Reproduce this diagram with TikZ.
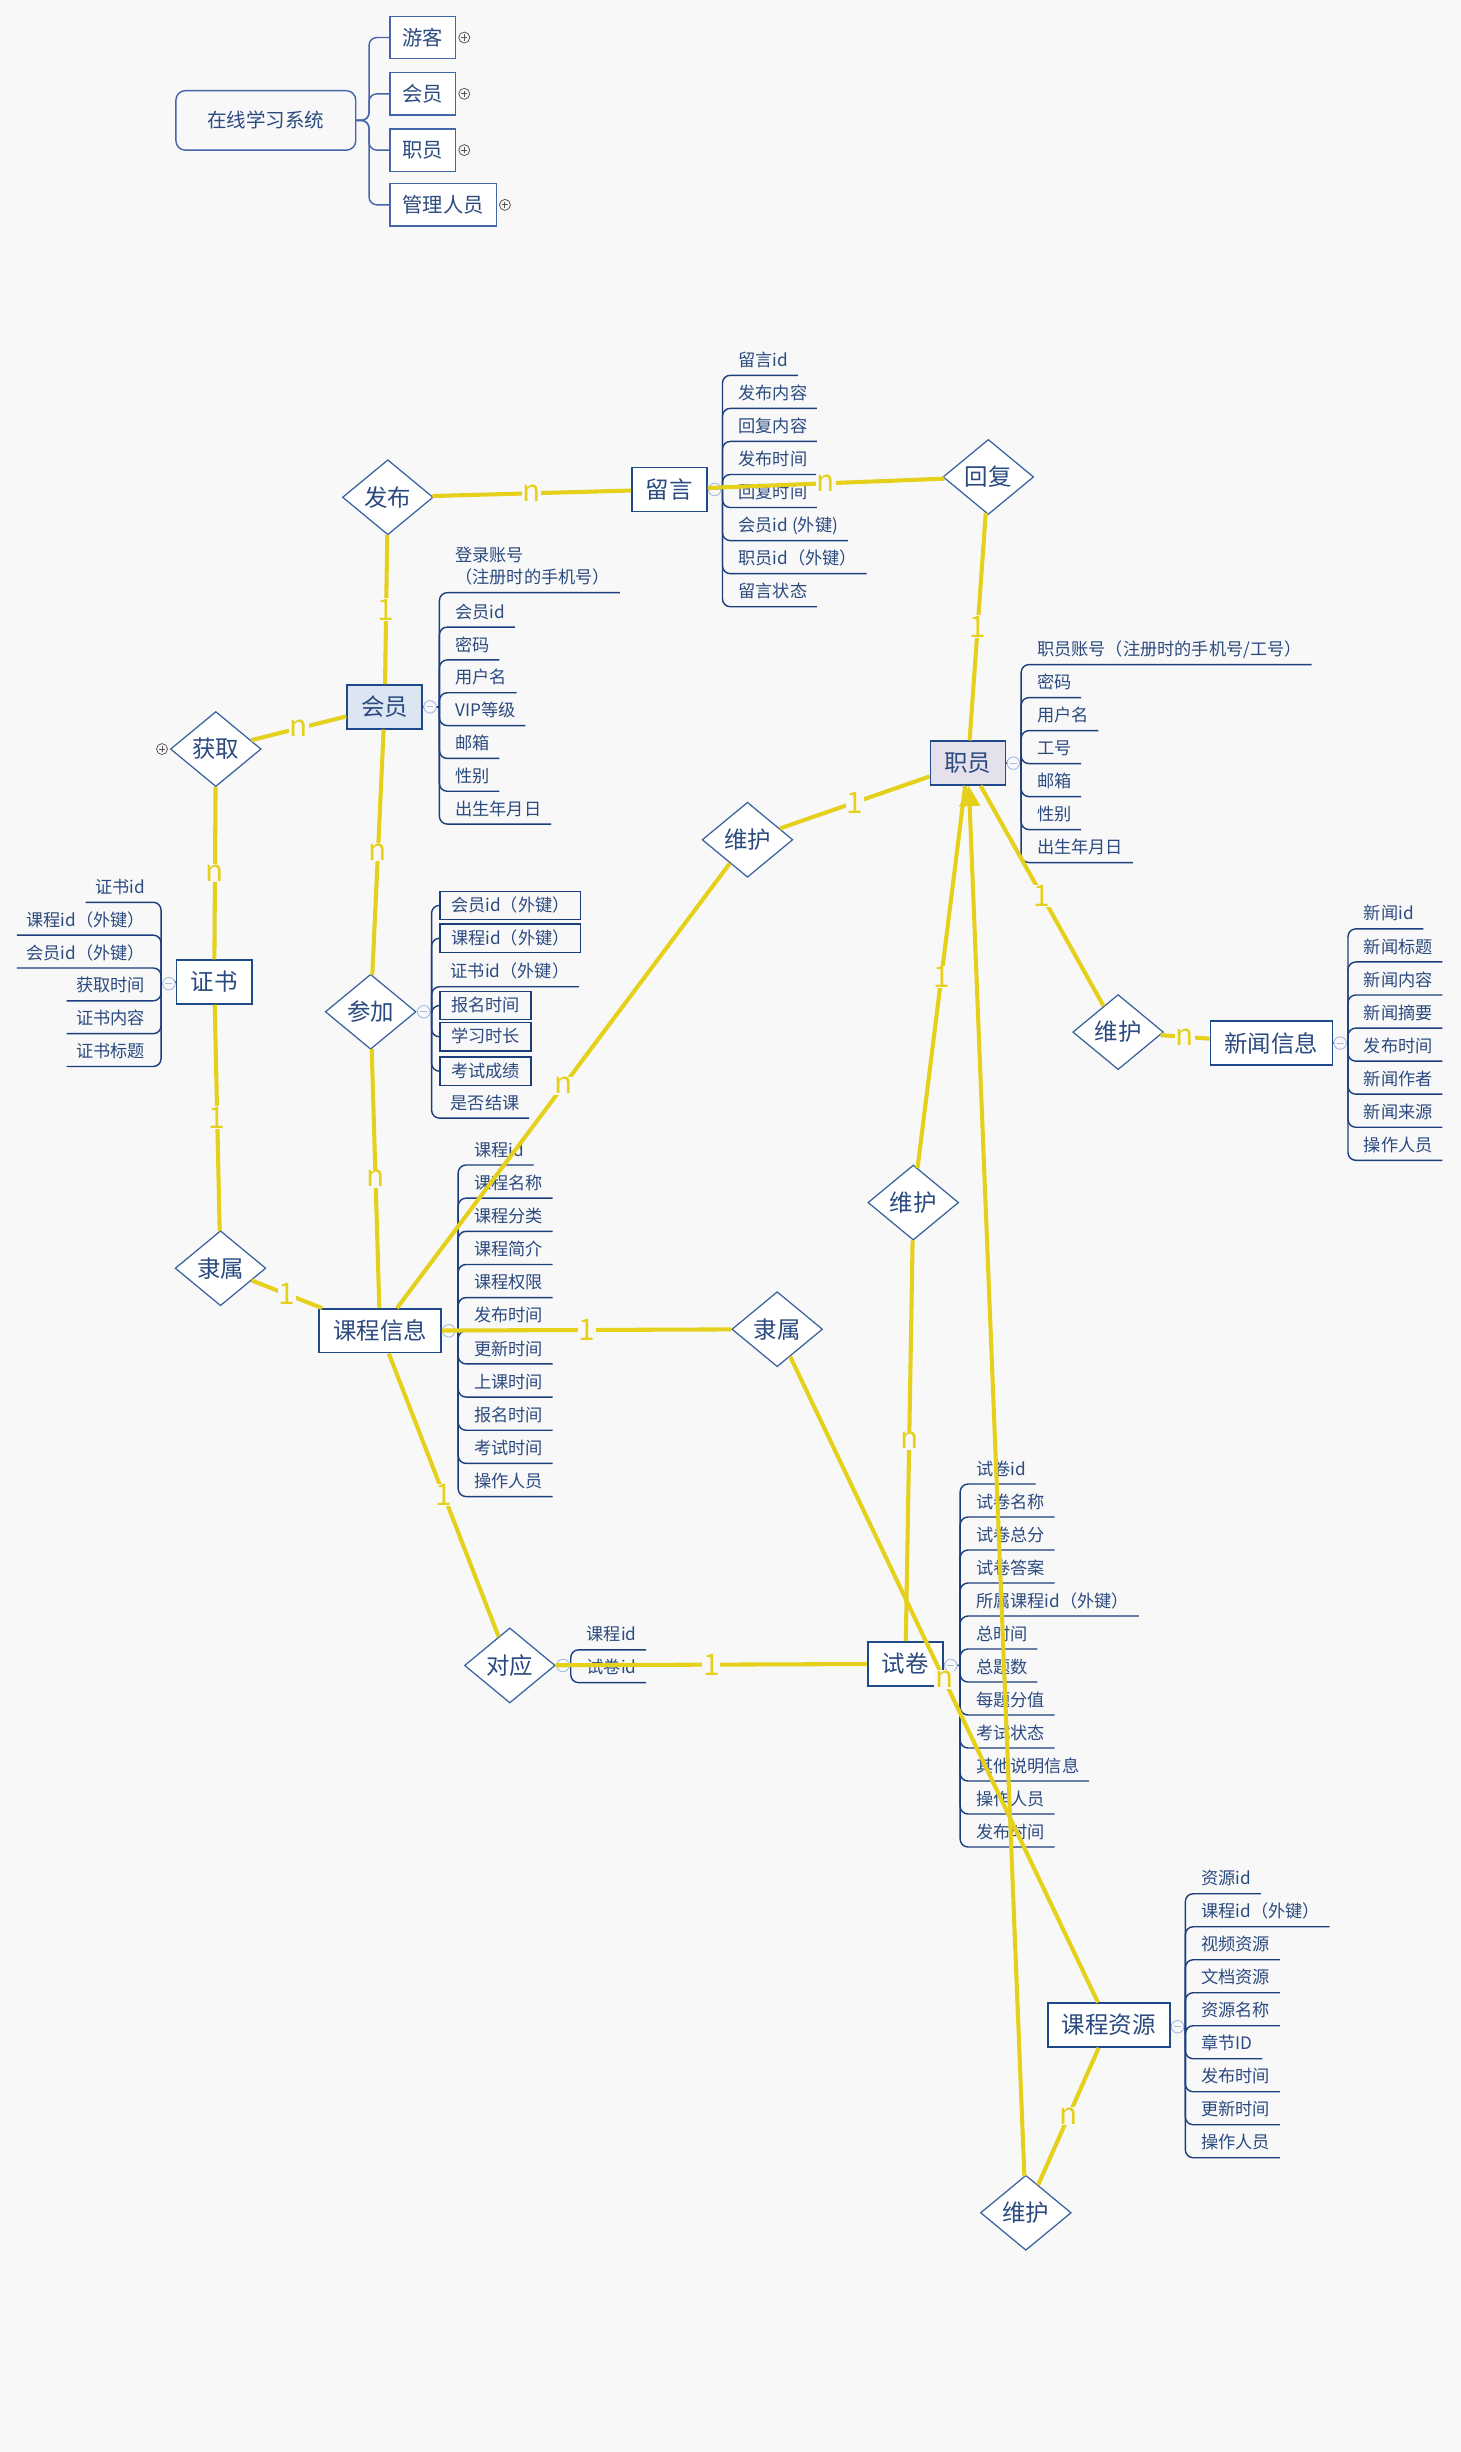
\documentclass[tikz,border=0pt]{standalone}
\usepackage{fontspec}
\setmainfont{Noto Sans CJK SC}
\usepackage{tikz}
\usetikzlibrary{shapes.geometric,arrows.meta}
\usepackage{xcolor}

\definecolor{bgcol}{HTML}{F8F8F8}
\definecolor{linkcol}{HTML}{E5D01C}
\definecolor{boxcol}{HTML}{1F4A8A}
\definecolor{diacol}{HTML}{3A62A0}
\definecolor{txtcol}{HTML}{2B4A80}
\definecolor{attrcol}{HTML}{1C3E7C}
\definecolor{mmcol}{HTML}{4565AA}
\definecolor{foldcol}{HTML}{A8BBE0}
\definecolor{pluscol}{HTML}{555555}
\definecolor{vipfill}{HTML}{DCE6F2}
\definecolor{stafffill}{HTML}{E4E0EC}

\begin{document}
\begin{tikzpicture}[x=1pt, y=-1pt,
    entity/.style={draw=boxcol, line width=1pt, fill=white, text=txtcol,
        font=\fontsize{15}{18}\selectfont, inner xsep=9pt, minimum height=28pt},
    relation/.style={diamond, draw=diacol, line width=0.8pt, fill=white, text=txtcol,
        font=\fontsize{15}{18}\selectfont, inner sep=0pt, minimum width=58pt, minimum height=48pt},
    attr/.style={text=txtcol, font=\fontsize{11}{14}\selectfont, inner xsep=6pt,
        inner ysep=4pt, text height=9pt, text depth=1.5pt},
    attrbox/.style={attr, draw=attrcol, line width=0.9pt, inner xsep=7pt, inner ysep=2pt, minimum height=18pt},
    attrline/.style={draw=attrcol, line width=0.9pt, rounded corners=5pt},
    link/.style={draw=linkcol, line width=2.6pt},
    lbl/.style={text=linkcol, fill=bgcol, font=\fontsize{19}{19}\selectfont, inner sep=0.5pt},
    minus/.style={circle, draw=foldcol, fill=bgcol, line width=0.6pt, minimum size=8pt, inner sep=0pt,
        path picture={\draw[foldcol, line width=0.6pt] ([xshift=1.8pt]path picture bounding box.west)
            -- ([xshift=-1.8pt]path picture bounding box.east);}},
    plus/.style={circle, draw=pluscol, fill=bgcol, line width=0.5pt, minimum size=7pt, inner sep=0pt,
        path picture={\draw[pluscol, line width=0.6pt] ([xshift=1.5pt]path picture bounding box.west)
            -- ([xshift=-1.5pt]path picture bounding box.east)
            ([yshift=-1.5pt]path picture bounding box.north) -- ([yshift=1.5pt]path picture bounding box.south);}},
    mmroot/.style={draw=mmcol, line width=0.9pt, rounded corners=6pt, text=txtcol,
        font=\fontsize{12.5}{15}\selectfont, minimum width=115pt, minimum height=38pt},
    mmitem/.style={draw=mmcol, line width=0.9pt, fill=white, text=txtcol, anchor=west,
        font=\fontsize{13}{15}\selectfont, inner xsep=8pt, minimum height=27pt},
    mmline/.style={draw=mmcol, line width=0.9pt, rounded corners=5pt}
]

\useasboundingbox (0,0) rectangle (934,1568);
\fill[bgcol] (0,0) rectangle (934,1568);

% Overview
\node[mmroot] (sys) at (170,77) {在线学习系统};
\node[mmitem] (guest) at (249,24) {游客};
\node[mmitem] (member) at (249,60) {会员};
\node[mmitem] (staff) at (249,96) {职员};
\node[mmitem] (admin) at (249,131) {管理人员};
\foreach \n in {guest, member, staff, admin} {
    \draw[mmline] (sys.east) -- (236,77) |- (\n.west);
    \node[plus] (\n-p) at ([xshift=5pt]\n.east) {};
}

% Entities
\node[entity] (liuyan) at (428,313) {留言};
\node[entity, fill=vipfill] (huiyuan) at (246,452) {会员};
\node[entity, fill=stafffill] (zhiyuan) at (619,488) {职员};
\node[entity] (zhengshu) at (137,628) {证书};
\node[entity] (kecheng) at (243,851) {课程信息};
\node[entity] (xinwen) at (813,667) {新闻信息};
\node[entity] (shijuan) at (579,1064) {试卷};
\node[entity] (ziyuan) at (709,1295) {课程资源};

% Relations
\node[relation] (fabu) at (248,318) {发布};
\node[relation] (huoqu) at (138,479) {获取};
\node[relation] (canjia) at (237,647) {参加};
\node[relation] (lishu1) at (141,811) {隶属};
\node[relation] (weihu1) at (478,537) {维护};
\node[relation] (huifu) at (632,305) {回复};
\node[relation] (weihu2) at (715,660) {维护};
\node[relation] (weihu3) at (584,769) {维护};
\node[relation] (lishu2) at (497,850) {隶属};
\node[relation] (duiying) at (326,1065) {对应};
\node[relation] (weihu4) at (656,1415) {维护};
\node[plus] (huoqu-p) at ([xshift=-5pt]huoqu.west) {};

% Attributes of 留言
\draw[attrline] (liuyan.east) -- (462,313);
\foreach \txt [count=\i] in {留言id, 发布内容, 回复内容, 发布时间, 回复时间, 会员id (外键), 职员id（外键）, 留言状态} {
    \node[attr, anchor=south west] (ly\i) at (466,{240+21.14*(\i-1)}) {\txt};
    \draw[attrline] (462,313) |- (ly\i.south east);
}
\node[minus] (ly-m) at (457,313) {};

% Attributes of 会员
\draw[attrline] (huiyuan.east) -- (281,452);
\node[attr, anchor=south west, align=left, text height=23pt] (hy0) at (285,379) {登录账号\\（注册时的手机号）};
\draw[attrline] (281,452) |- (hy0.south east);
\foreach \txt [count=\i] in {会员id, 密码, 用户名, VIP等级, 邮箱, 性别, 出生年月日} {
    \node[attr, anchor=south west] (hy\i) at (285,{401+21*(\i-1)}) {\txt};
    \draw[attrline] (281,452) |- (hy\i.south east);
}
\node[minus] (hy-m) at (275,452) {};

% Attributes of 职员
\draw[attrline] (zhiyuan.east) -- (653,488);
\foreach \txt [count=\i] in {职员账号（注册时的手机号/工号）, 密码, 用户名, 工号, 邮箱, 性别, 出生年月日} {
    \node[attr, anchor=south west] (zy\i) at (657,{425+21.1*(\i-1)}) {\txt};
    \draw[attrline] (653,488) |- (zy\i.south east);
}
\node[minus] (zy-m) at (648,488) {};

% Attributes of 新闻信息
\draw[attrline] (xinwen.east) -- (862,667);
\foreach \txt [count=\i] in {新闻id, 新闻标题, 新闻内容, 新闻摘要, 发布时间, 新闻作者, 新闻来源, 操作人员} {
    \node[attr, anchor=south west] (xw\i) at (866,{594+21.14*(\i-1)}) {\txt};
    \draw[attrline] (862,667) |- (xw\i.south east);
}
\node[minus] (xw-m) at (857,667) {};

% Attributes of 证书
\draw[attrline] (zhengshu.west) -- (103,629);
\foreach \txt [count=\i] in {证书id, 课程id（外键）, 会员id（外键）, 获取时间, 证书内容, 证书标题} {
    \node[attr, anchor=south east] (zs\i) at (99,{577+21*(\i-1)}) {\txt};
    \draw[attrline] (103,629) |- (zs\i.south west);
}
\node[minus] (zs-m) at (108,629) {};

% Attributes of 参加
\draw[attrline] (canjia.east) -- (276,647);
\node[attrbox, anchor=west] (cj1) at (281,579) {会员id（外键）};
\node[attrbox, anchor=west] (cj2) at (281,600) {课程id（外键）};
\node[attr, anchor=south west] (cj3) at (282,631) {证书id（外键）};
\node[attrbox, anchor=west] (cj4) at (281,643) {报名时间};
\node[attrbox, anchor=west] (cj5) at (281,663) {学习时长};
\node[attrbox, anchor=west] (cj6) at (281,685) {考试成绩};
\node[attr, anchor=south west] (cj7) at (282,715) {是否结课};
\foreach \i in {1,2,4,5,6} \draw[attrline] (276,647) |- (cj\i.west);
\foreach \i in {3,7} \draw[attrline] (276,647) |- (cj\i.south east);
\node[minus] (cj-m) at (271,647) {};

% Attributes of 课程信息
\draw[attrline] (kecheng.east) -- (293,851);
\foreach \txt [count=\i] in {课程id, 课程名称, 课程分类, 课程简介, 课程权限, 发布时间, 更新时间, 上课时间, 报名时间, 考试时间, 操作人员} {
    \node[attr, anchor=south west] (kc\i) at (297,{745+21.2*(\i-1)}) {\txt};
    \draw[attrline] (293,851) |- (kc\i.south east);
}
\node[minus] (kc-m) at (287,851) {};

% Attributes of 试卷
\draw[attrline] (shijuan.east) -- (614,1065);
\foreach \txt [count=\i] in {试卷id, 试卷名称, 试卷总分, 试卷答案, 所属课程id（外键）, 总时间, 总题数, 每题分值, 考试状态, 其他说明信息, 操作人员, 发布时间} {
    \node[attr, anchor=south west] (sj\i) at (618,{949+21.1*(\i-1)}) {\txt};
    \draw[attrline] (614,1065) |- (sj\i.south east);
}
\node[minus] (sj-m) at (608,1065) {};

% Attributes of 课程资源
\draw[attrline] (ziyuan.east) -- (758,1296);
\foreach \txt [count=\i] in {资源id, 课程id（外键）, 视频资源, 文档资源, 资源名称, 章节ID, 发布时间, 更新时间, 操作人员} {
    \node[attr, anchor=south west] (zr\i) at (762,{1211+21.1*(\i-1)}) {\txt};
    \draw[attrline] (758,1296) |- (zr\i.south east);
}
\node[minus] (zr-m) at (753,1296) {};

% Attributes of 对应
\draw[attrline] (duiying.east) -- (365,1065);
\foreach \txt [count=\i] in {课程id, 试卷id} {
    \node[attr, anchor=south west] (dy\i) at (369,{1055+21*(\i-1)}) {\txt};
    \draw[attrline] (365,1065) |- (dy\i.south east);
}
\node[minus] (dy-m) at (360,1065) {};

% Links with cardinality
\draw[link] (fabu) -- node[lbl, midway] {n} (liuyan);
\draw[link] (fabu) -- node[lbl, midway] {1} (huiyuan);
\draw[link] (huiyuan) -- node[lbl, midway] {n} (huoqu);
\draw[link] (huoqu) -- node[lbl, midway] {n} (zhengshu);
\draw[link] (huiyuan) -- node[lbl, midway] {n} (canjia);
\draw[link] (canjia) -- node[lbl, midway] {n} (kecheng);
\draw[link] (zhengshu) -- node[lbl, midway] {1} (lishu1);
\draw[link] (lishu1) -- node[lbl, midway] {1} (kecheng);
\draw[link] (kecheng) -- node[lbl, midway] {n} (weihu1);
\draw[link] (weihu1) -- node[lbl, midway] {1} (zhiyuan);
\draw[link] (liuyan) -- node[lbl, midway] {n} (huifu);
\draw[link] (huifu) -- node[lbl, midway] {1} (zhiyuan);
\draw[link] (zhiyuan) -- node[lbl, midway] {1} (weihu2);
\draw[link] (weihu2) -- node[lbl, midway] {n} (xinwen);
\draw[link] (kecheng) -- node[lbl, midway] {1} (lishu2);
\draw[link] (lishu2) -- node[lbl, midway] {n} (ziyuan);
\draw[link] (weihu3) -- node[lbl, midway] {1} (zhiyuan);
\draw[link] (weihu3) -- node[lbl, midway] {n} (shijuan);
\draw[link] (kecheng) -- node[lbl, midway] {1} (duiying);
\draw[link] (duiying) -- node[lbl, midway] {1} (shijuan);
\draw[link] (ziyuan) -- node[lbl, midway] {n} (weihu4);
\draw[link, -{Triangle[length=13pt, width=13pt]}] (weihu4) -- (zhiyuan);

\end{tikzpicture}
\end{document}
